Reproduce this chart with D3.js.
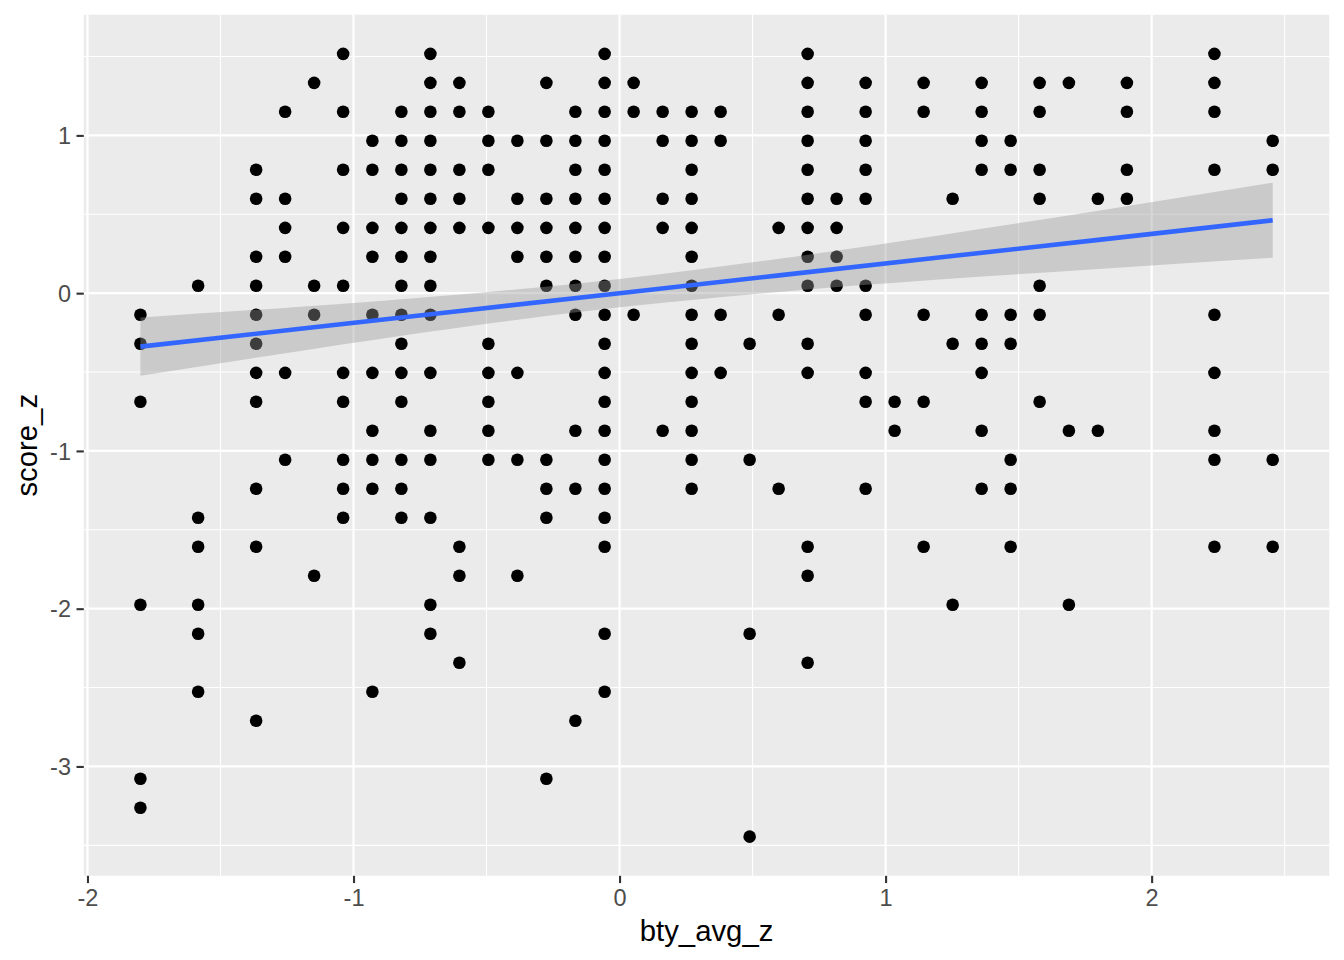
<!DOCTYPE html>
<html>
<head>
<meta charset="utf-8">
<script src="https://cdn.jsdelivr.net/npm/d3@7"></script>
<style>
  html, body { margin: 0; padding: 0; background: #ffffff; }
  svg { display: block; }
</style>
</head>
<body>
<script>
// ---- Data ----
const btyLevels = [-1.801, -1.584, -1.366, -1.257, -1.148, -1.039, -0.929, -0.820, -0.711, -0.602,
  -0.493, -0.384, -0.275, -0.166, -0.056, 0.053, 0.162, 0.271, 0.380, 0.489,
  0.598, 0.707, 0.816, 0.925, 1.034, 1.143, 1.252, 1.361, 1.470, 1.579,
  1.689, 1.798, 1.907, 2.236, 2.455];

const scoreZByLevel = [
  [-0.137, -0.321, -0.688, -1.975, -3.078, -3.262],
  [0.047, -1.424, -1.607, -1.975, -2.159, -2.526],
  [0.782, 0.598, 0.231, 0.047, -0.137, -0.321, -0.505, -0.688, -1.240, -1.607, -2.710],
  [1.150, 0.598, 0.414, 0.231, -0.505, -1.056],
  [1.333, 0.047, -0.137, -1.791],
  [1.517, 1.150, 0.782, 0.414, 0.047, -0.505, -0.688, -1.056, -1.240, -1.424],
  [0.966, 0.782, 0.414, 0.231, -0.137, -0.505, -0.872, -1.056, -1.240, -2.526],
  [1.150, 0.966, 0.782, 0.598, 0.414, 0.231, 0.047, -0.137, -0.321, -0.505, -0.688, -1.056, -1.240, -1.424],
  [1.517, 1.333, 1.150, 0.966, 0.782, 0.598, 0.414, 0.231, 0.047, -0.137, -0.505, -0.872, -1.056, -1.424, -1.975, -2.159],
  [1.333, 1.150, 0.782, 0.598, 0.414, -1.607, -1.791, -2.343],
  [1.150, 0.966, 0.782, 0.414, -0.321, -0.505, -0.688, -0.872, -1.056],
  [0.966, 0.598, 0.414, 0.231, -0.505, -1.056, -1.791],
  [1.333, 0.966, 0.598, 0.414, 0.231, 0.047, -1.056, -1.240, -1.424, -3.078],
  [1.150, 0.966, 0.782, 0.598, 0.414, 0.231, 0.047, -0.137, -0.872, -1.240, -2.710],
  [1.517, 1.333, 1.150, 0.966, 0.782, 0.598, 0.414, 0.231, 0.047, -0.137, -0.321, -0.505, -0.688, -0.872, -1.056, -1.240, -1.424, -1.607, -2.159, -2.526],
  [1.333, 1.150, -0.137],
  [1.150, 0.966, 0.598, 0.414, -0.872],
  [1.150, 0.966, 0.782, 0.598, 0.414, 0.231, 0.047, -0.137, -0.321, -0.505, -0.688, -0.872, -1.056, -1.240],
  [1.150, 0.966, -0.137, -0.505],
  [-0.321, -1.056, -2.159, -3.445],
  [0.414, -0.137, -1.240],
  [1.517, 1.333, 1.150, 0.966, 0.782, 0.598, 0.414, 0.231, 0.047, -0.321, -0.505, -1.607, -1.791, -2.343],
  [0.598, 0.414, 0.231, 0.047],
  [1.333, 1.150, 0.966, 0.782, 0.598, 0.047, -0.137, -0.505, -0.688, -1.240],
  [-0.688, -0.872],
  [1.333, 1.150, -0.137, -0.688, -1.607],
  [0.598, -0.321, -1.975],
  [1.333, 1.150, 0.966, 0.782, -0.137, -0.321, -0.505, -0.872, -1.240],
  [0.966, 0.782, -0.137, -0.321, -1.056, -1.240, -1.607],
  [1.333, 1.150, 0.782, 0.598, 0.047, -0.137, -0.688],
  [1.333, -0.872, -1.975],
  [0.598, -0.872],
  [1.333, 1.150, 0.782, 0.598],
  [1.517, 1.333, 1.150, 0.782, -0.137, -0.505, -0.872, -1.056, -1.607],
  [0.966, 0.782, -1.056, -1.607]
];

// Linear fit and 95% confidence band
const fitX     = [-1.801, -1.2, -0.6, 0.0, 0.6, 1.2, 1.8, 2.455];
const fitY     = [-0.339, -0.226, -0.113, 0.000, 0.113, 0.226, 0.338, 0.462];
const fitLower = [-0.524, -0.366, -0.218, -0.090, 0.008, 0.086, 0.153, 0.224];
const fitUpper = [-0.154, -0.086, -0.008, 0.090, 0.218, 0.366, 0.523, 0.700];

const xTicks = [-2, -1, 0, 1, 2];
const yTicks = [-3, -2, -1, 0, 1];
const xTickLabels = ["-2", "-1", "0", "1", "2"];
const yTickLabels = ["-3", "-2", "-1", "0", "1"];
const xMinor = [-1.5, -0.5, 0.5, 1.5, 2.5];
const yMinor = [-3.5, -2.5, -1.5, -0.5, 0.5, 1.5];
const xTitle = "bty_avg_z";
const yTitle = "score_z";

// ---- Layout ----
const W = 1344, H = 960;
const panel = { left: 83.8, right: 1329.3, top: 14.7, bottom: 875.8 };

const points = [];
btyLevels.forEach((bx, i) => scoreZByLevel[i].forEach(sy => points.push({ x: bx, y: sy })));

const xExt = [-1.801, 2.455], yExt = [-3.445, 1.517];
const xPad = (xExt[1] - xExt[0]) * 0.05, yPad = (yExt[1] - yExt[0]) * 0.05;
const x = d3.scaleLinear().domain([xExt[0] - xPad, xExt[1] + xPad]).range([panel.left, panel.right]);
const y = d3.scaleLinear().domain([yExt[0] - yPad, yExt[1] + yPad]).range([panel.bottom, panel.top]);

const svg = d3.select("body").append("svg").attr("width", W).attr("height", H);
svg.append("rect").attr("width", W).attr("height", H).attr("fill", "#ffffff");

svg.append("rect")
  .attr("x", panel.left).attr("y", panel.top)
  .attr("width", panel.right - panel.left).attr("height", panel.bottom - panel.top)
  .attr("fill", "#EBEBEB");

const grid = svg.append("g");
grid.selectAll(".xmin").data(xMinor).join("line")
  .attr("x1", d => x(d)).attr("x2", d => x(d))
  .attr("y1", panel.top).attr("y2", panel.bottom)
  .attr("stroke", "#ffffff").attr("stroke-width", 1.1);
grid.selectAll(".ymin").data(yMinor).join("line")
  .attr("y1", d => y(d)).attr("y2", d => y(d))
  .attr("x1", panel.left).attr("x2", panel.right)
  .attr("stroke", "#ffffff").attr("stroke-width", 1.1);
grid.selectAll(".xmaj").data(xTicks).join("line")
  .attr("x1", d => x(d)).attr("x2", d => x(d))
  .attr("y1", panel.top).attr("y2", panel.bottom)
  .attr("stroke", "#ffffff").attr("stroke-width", 2.2);
grid.selectAll(".ymaj").data(yTicks).join("line")
  .attr("y1", d => y(d)).attr("y2", d => y(d))
  .attr("x1", panel.left).attr("x2", panel.right)
  .attr("stroke", "#ffffff").attr("stroke-width", 2.2);

// Points
svg.append("g").selectAll("circle").data(points).join("circle")
  .attr("cx", d => x(d.x)).attr("cy", d => y(d.y))
  .attr("r", 6.3).attr("fill", "#000000");

// Confidence band
const band = fitX.map((v, i) => ({ x: v, lo: fitLower[i], hi: fitUpper[i] }));
svg.append("path").datum(band)
  .attr("d", d3.area().x(d => x(d.x)).y0(d => y(d.lo)).y1(d => y(d.hi)).curve(d3.curveMonotoneX))
  .attr("fill", "#999999").attr("fill-opacity", 0.4);

// Fit line
const fit = fitX.map((v, i) => ({ x: v, y: fitY[i] }));
svg.append("path").datum(fit)
  .attr("d", d3.line().x(d => x(d.x)).y(d => y(d.y)))
  .attr("fill", "none").attr("stroke", "#3366FF").attr("stroke-width", 4.6);

// Axes
const font = "'Liberation Sans', Arial, Helvetica, sans-serif";
const xAxis = svg.append("g").attr("transform", `translate(0,${panel.bottom})`)
  .call(d3.axisBottom(x).tickValues(xTicks).tickSize(7.3).tickPadding(5.5)
    .tickFormat((d, i) => xTickLabels[i]));
const yAxis = svg.append("g").attr("transform", `translate(${panel.left},0)`)
  .call(d3.axisLeft(y).tickValues(yTicks).tickSize(7.3).tickPadding(5.5)
    .tickFormat((d, i) => yTickLabels[i]));
[xAxis, yAxis].forEach(a => {
  a.select(".domain").remove();
  a.selectAll(".tick line").attr("stroke", "#333333").attr("stroke-width", 2.1);
  a.selectAll(".tick text").attr("fill", "#4D4D4D").style("font-family", font).style("font-size", "23.5px");
});
xAxis.selectAll(".tick text").attr("dy", "0.75em");
yAxis.selectAll(".tick text").attr("dy", "0.35em");

// Titles
svg.append("text")
  .attr("x", (panel.left + panel.right) / 2).attr("y", 941)
  .attr("text-anchor", "middle")
  .style("font-family", font).style("font-size", "29.3px").attr("fill", "#000000")
  .text(xTitle);
svg.append("text")
  .attr("transform", `translate(37,${(panel.top + panel.bottom) / 2}) rotate(-90)`)
  .attr("text-anchor", "middle")
  .style("font-family", font).style("font-size", "29.3px").attr("fill", "#000000")
  .text(yTitle);
</script>
</body>
</html>
